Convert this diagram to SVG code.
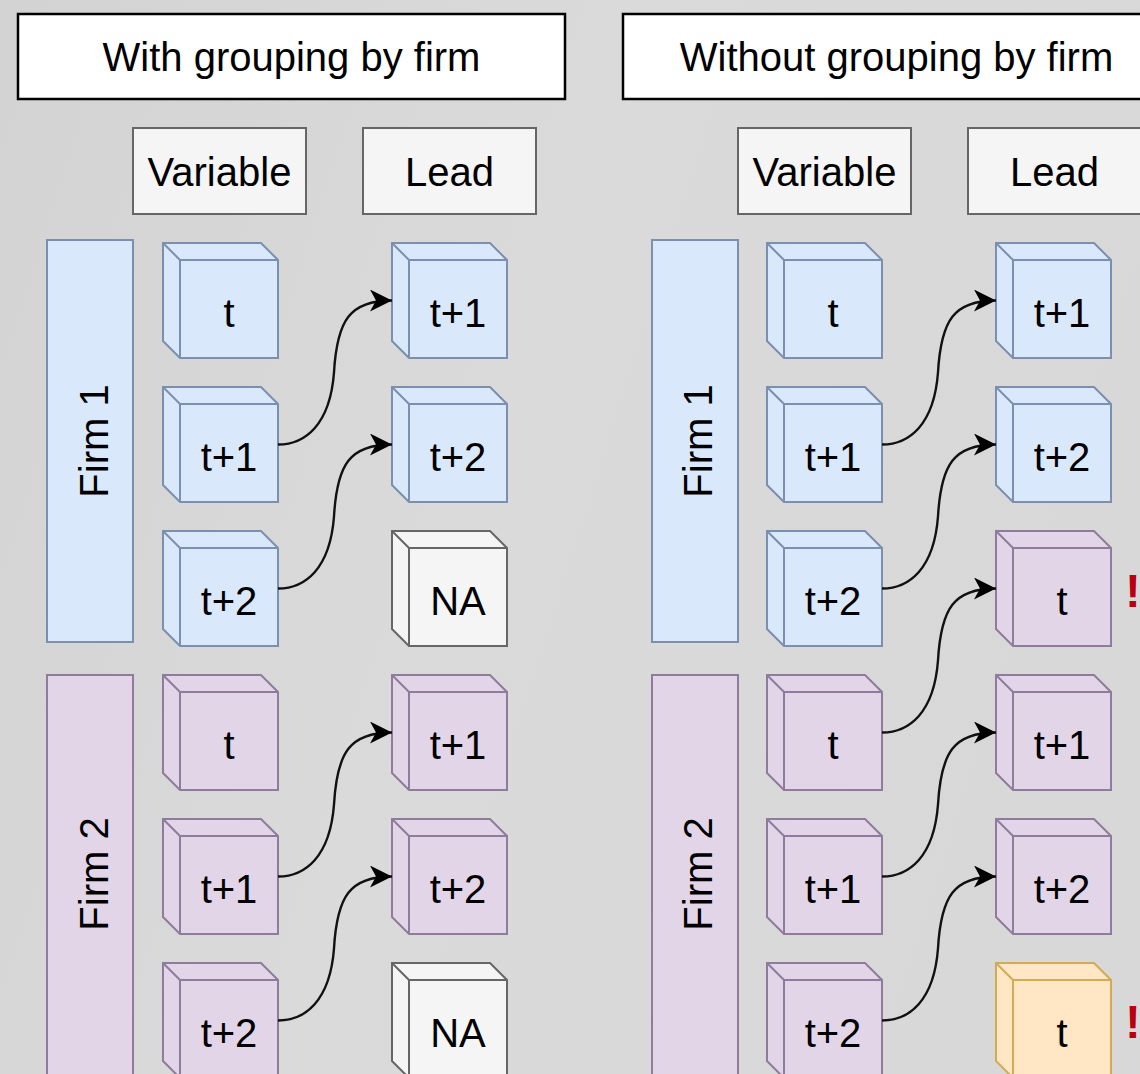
<svg xmlns="http://www.w3.org/2000/svg" xmlns:xlink="http://www.w3.org/1999/xlink" width="1140" height="1074" viewBox="0 0 1140 1074">
<style>
.txt{font-family:"Liberation Sans",Arial,Helvetica,sans-serif;font-size:40px;fill:#000;stroke:none;text-anchor:middle}
.title rect{fill:#fff;stroke:#000;stroke-width:2.5}
.hdr rect{fill:#f5f5f5;stroke:#666;stroke-width:2}
.blue{fill:#dae8fc;stroke:#7b8fb0;stroke-width:2}
.purple{fill:#e1d5e7;stroke:#8f7c9c;stroke-width:2}
.gray{fill:#f5f5f5;stroke:#666;stroke-width:2}
.orange{fill:#ffe6c4;stroke:#d2ab55;stroke-width:2}
.conn path{fill:none;stroke:#111;stroke-width:2.4}
.warn{font-family:"Liberation Sans",Arial,sans-serif;font-size:46px;font-weight:bold;fill:#b80012;text-anchor:middle}
</style>
<defs>
<linearGradient id="bg" x1="0" y1="0" x2="1" y2="0.3">
<stop offset="0" stop-color="#d3d3d3"/>
<stop offset="0.5" stop-color="#dadada"/>
<stop offset="1" stop-color="#d8d8d8"/>
</linearGradient>
<g id="cube">
<path d="M0,0 H98 L115,17 V115 H17 L0,98 Z"/>
<path d="M0,0 L17,17 H115 M17,17 V115" fill="none"/>
</g>
<marker id="arr" markerUnits="userSpaceOnUse" markerWidth="24" markerHeight="24" refX="22" refY="11" orient="auto">
<path d="M0,0 L22,11 L0,22 L6,11 Z" fill="#000"/>
</marker>
</defs>
<rect width="1140" height="1074" fill="url(#bg)"/>

<!-- LEFT -->
<g id="title-left" class="title"><rect x="18" y="14" width="547" height="85"/><text class="txt" x="291.5" y="71">With grouping by firm</text></g>
<g id="hdr-var-left" class="hdr"><rect x="133" y="128" width="173" height="86"/><text class="txt" x="219.5" y="186">Variable</text></g>
<g id="hdr-lead-left" class="hdr"><rect x="363" y="128" width="173" height="86"/><text class="txt" x="449.5" y="186">Lead</text></g>
<g id="firm1-left" class="blue"><rect x="47" y="240" width="86" height="402"/><text class="txt" transform="translate(108,441) rotate(-90)">Firm 1</text></g>
<g id="firm2-left" class="purple"><rect x="47" y="675" width="86" height="402"/><text class="txt" transform="translate(108,874) rotate(-90)">Firm 2</text></g>

<g id="L-var-1" class="blue"><use href="#cube" x="163" y="243"/><text class="txt" x="229" y="327">t</text></g>
<g id="L-var-2" class="blue"><use href="#cube" x="163" y="387"/><text class="txt" x="229" y="471">t+1</text></g>
<g id="L-var-3" class="blue"><use href="#cube" x="163" y="531"/><text class="txt" x="229" y="615">t+2</text></g>
<g id="L-var-4" class="purple"><use href="#cube" x="163" y="675"/><text class="txt" x="229" y="759">t</text></g>
<g id="L-var-5" class="purple"><use href="#cube" x="163" y="819"/><text class="txt" x="229" y="903">t+1</text></g>
<g id="L-var-6" class="purple"><use href="#cube" x="163" y="963"/><text class="txt" x="229" y="1047">t+2</text></g>

<g id="L-lead-1" class="blue"><use href="#cube" x="392" y="243"/><text class="txt" x="458" y="327">t+1</text></g>
<g id="L-lead-2" class="blue"><use href="#cube" x="392" y="387"/><text class="txt" x="458" y="471">t+2</text></g>
<g id="L-lead-3" class="gray"><use href="#cube" x="392" y="531"/><text class="txt" x="458" y="615">NA</text></g>
<g id="L-lead-4" class="purple"><use href="#cube" x="392" y="675"/><text class="txt" x="458" y="759">t+1</text></g>
<g id="L-lead-5" class="purple"><use href="#cube" x="392" y="819"/><text class="txt" x="458" y="903">t+2</text></g>
<g id="L-lead-6" class="gray"><use href="#cube" x="392" y="963"/><text class="txt" x="458" y="1047">NA</text></g>

<!-- RIGHT -->
<g id="title-right" class="title"><rect x="623" y="14" width="547" height="85"/><text class="txt" x="896.5" y="71">Without grouping by firm</text></g>
<g id="hdr-var-right" class="hdr"><rect x="738" y="128" width="173" height="86"/><text class="txt" x="824.5" y="186">Variable</text></g>
<g id="hdr-lead-right" class="hdr"><rect x="968" y="128" width="173" height="86"/><text class="txt" x="1054.5" y="186">Lead</text></g>
<g id="firm1-right" class="blue"><rect x="652" y="240" width="86" height="402"/><text class="txt" transform="translate(712,441) rotate(-90)">Firm 1</text></g>
<g id="firm2-right" class="purple"><rect x="652" y="675" width="86" height="402"/><text class="txt" transform="translate(712,874) rotate(-90)">Firm 2</text></g>

<g id="R-var-1" class="blue"><use href="#cube" x="767" y="243"/><text class="txt" x="833" y="327">t</text></g>
<g id="R-var-2" class="blue"><use href="#cube" x="767" y="387"/><text class="txt" x="833" y="471">t+1</text></g>
<g id="R-var-3" class="blue"><use href="#cube" x="767" y="531"/><text class="txt" x="833" y="615">t+2</text></g>
<g id="R-var-4" class="purple"><use href="#cube" x="767" y="675"/><text class="txt" x="833" y="759">t</text></g>
<g id="R-var-5" class="purple"><use href="#cube" x="767" y="819"/><text class="txt" x="833" y="903">t+1</text></g>
<g id="R-var-6" class="purple"><use href="#cube" x="767" y="963"/><text class="txt" x="833" y="1047">t+2</text></g>

<g id="R-lead-1" class="blue"><use href="#cube" x="996" y="243"/><text class="txt" x="1062" y="327">t+1</text></g>
<g id="R-lead-2" class="blue"><use href="#cube" x="996" y="387"/><text class="txt" x="1062" y="471">t+2</text></g>
<g id="R-lead-3" class="purple"><use href="#cube" x="996" y="531"/><text class="txt" x="1062" y="615">t</text></g>
<g id="R-lead-4" class="purple"><use href="#cube" x="996" y="675"/><text class="txt" x="1062" y="759">t+1</text></g>
<g id="R-lead-5" class="purple"><use href="#cube" x="996" y="819"/><text class="txt" x="1062" y="903">t+2</text></g>
<g id="R-lead-6" class="orange"><use href="#cube" x="996" y="963"/><text class="txt" x="1062" y="1047">t</text></g>

<g id="warn-1"><text class="warn" x="1133" y="607">!</text></g>
<g id="warn-2"><text class="warn" x="1133" y="1038">!</text></g>

<g id="connectors" class="conn">
<path marker-end="url(#arr)" d="M278,444.5 C305,444.5 330,425 334,372.5 C337,320 350,300.5 392,300.5"/>
<path marker-end="url(#arr)" d="M278,588.5 C305,588.5 330,569 334,516.5 C337,464 350,444.5 392,444.5"/>
<path marker-end="url(#arr)" d="M278,876.5 C305,876.5 330,857 334,804.5 C337,752 350,732.5 392,732.5"/>
<path marker-end="url(#arr)" d="M278,1020.5 C305,1020.5 330,1001 334,948.5 C337,896 350,876.5 392,876.5"/>
<path marker-end="url(#arr)" d="M882,444.5 C909,444.5 934,425 938,372.5 C941,320 954,300.5 996,300.5"/>
<path marker-end="url(#arr)" d="M882,588.5 C909,588.5 934,569 938,516.5 C941,464 954,444.5 996,444.5"/>
<path marker-end="url(#arr)" d="M882,732.5 C909,732.5 934,713 938,660.5 C941,608 954,588.5 996,588.5"/>
<path marker-end="url(#arr)" d="M882,876.5 C909,876.5 934,857 938,804.5 C941,752 954,732.5 996,732.5"/>
<path marker-end="url(#arr)" d="M882,1020.5 C909,1020.5 934,1001 938,948.5 C941,896 954,876.5 996,876.5"/>
</g>
</svg>
